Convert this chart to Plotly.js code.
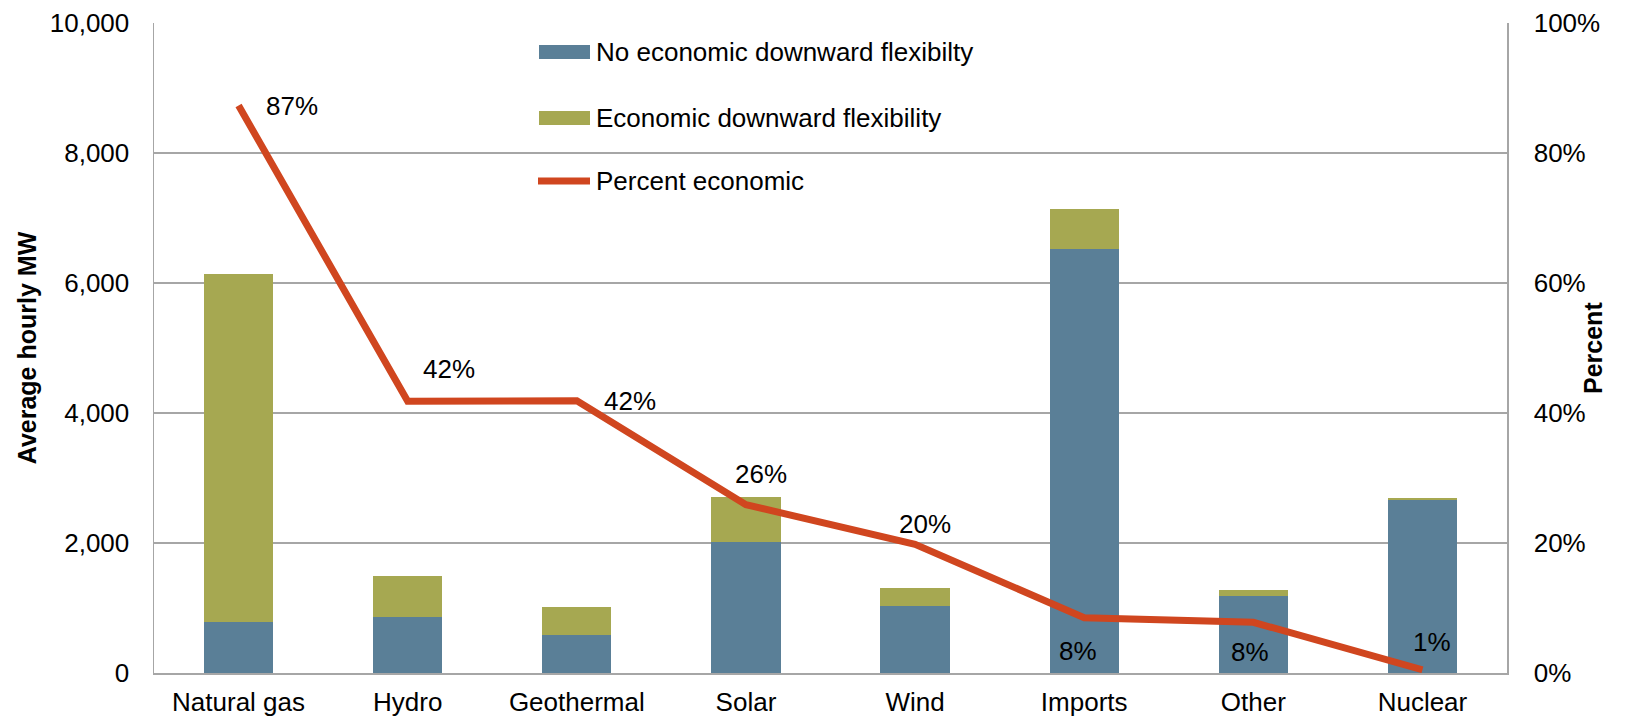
<!DOCTYPE html>
<html>
<head>
<meta charset="utf-8">
<script src="https://cdn.plot.ly/plotly-3.0.1.min.js"></script>
<style>
  html, body { margin: 0; padding: 0; background: #ffffff; }
  #chart { width: 1644px; height: 719px; }
</style>
</head>
<body>
<div id="chart"></div>
<script>
// ---- Data ----
const categories = ['Natural gas', 'Hydro', 'Geothermal', 'Solar', 'Wind', 'Imports', 'Other', 'Nuclear'];
const noEconomicMW = [782, 858, 588, 2008, 1038, 6529, 1191, 2660];
const economicMW = [5364, 639, 423, 705, 271, 603, 87, 28];
const percentEconomic = [87.3, 41.8, 41.9, 25.9, 19.8, 8.5, 7.8, 0.5];
const percentLabels = ['87%', '42%', '42%', '26%', '20%', '8%', '8%', '1%'];
const mwTicks = [0, 2000, 4000, 6000, 8000, 10000];
const mwTickText = ['0', '2,000', '4,000', '6,000', '8,000', '10,000'];
const pctTicks = [0, 20, 40, 60, 80, 100];
const pctTickText = ['0%', '20%', '40%', '60%', '80%', '100%'];
const seriesNames = ['No economic downward flexibilty', 'Economic downward flexibility', 'Percent economic'];

// ---- Styles ----
const W = 1644, H = 719;
const M = { l: 154, r: 137, t: 23, b: 46 };
const blue = '#5a7f97';
const olive = '#a6a851';
const red = '#d0461f';
const gridGrey = '#a6a6a6';
const FONT = 'Liberation Sans, Arial, sans-serif';
const FS = 26;

// pixel -> paper helpers for the legend and right title
const pw = W - M.l - M.r, ph = H - M.t - M.b;
const px = v => (v - M.l) / pw;
const py = v => (H - M.b - v) / ph;

// label offsets (px) for the percent labels
const labelDX = [53, 41, 53, 15, 10, -6, -3, 10];
const labelDY = [0, 32, 0, 31, 20, -33, -30, 28];

const traces = [
  {
    type: 'bar', name: seriesNames[0], x: categories, y: noEconomicMW,
    marker: { color: blue }, yaxis: 'y', showlegend: false, hoverinfo: 'skip'
  },
  {
    type: 'bar', name: seriesNames[1], x: categories, y: economicMW,
    marker: { color: olive }, yaxis: 'y', showlegend: false, hoverinfo: 'skip'
  },
  {
    type: 'scatter', mode: 'lines', name: seriesNames[2], x: categories, y: percentEconomic,
    line: { color: red, width: 7 }, yaxis: 'y2', showlegend: false, hoverinfo: 'skip'
  }
];

const annotations = percentLabels.map((t, i) => ({
  x: categories[i], y: percentEconomic[i], xref: 'x', yref: 'y2',
  text: t, showarrow: false, xshift: labelDX[i], yshift: labelDY[i],
  xanchor: 'center', yanchor: 'middle',
  font: { family: FONT, size: FS, color: '#000' }
}));

// custom legend
const legendRows = [52, 118, 181];
const shapes = [
  { type: 'rect', xref: 'paper', yref: 'paper', x0: px(539), x1: px(590), y0: py(legendRows[0] + 7), y1: py(legendRows[0] - 7),
    fillcolor: blue, line: { width: 0 } },
  { type: 'rect', xref: 'paper', yref: 'paper', x0: px(539), x1: px(590), y0: py(legendRows[1] + 7), y1: py(legendRows[1] - 7),
    fillcolor: olive, line: { width: 0 } },
  { type: 'line', xref: 'paper', yref: 'paper', x0: px(538), x1: px(590), y0: py(legendRows[2]), y1: py(legendRows[2]),
    line: { color: red, width: 7 } }
];
seriesNames.forEach((n, i) => {
  annotations.push({
    xref: 'paper', yref: 'paper', x: px(594), y: py(legendRows[i]),
    xanchor: 'left', yanchor: 'middle', text: n, showarrow: false,
    font: { family: FONT, size: FS, color: '#000' }
  });
});

// right axis title
annotations.push({
  xref: 'paper', yref: 'paper', x: px(1593), y: 0.5, xanchor: 'center', yanchor: 'middle',
  text: 'Percent', textangle: -90, showarrow: false,
  font: { family: FONT, size: 25, color: '#000', weight: 'bold' }
});

const layout = {
  width: W, height: H,
  margin: M,
  paper_bgcolor: '#ffffff', plot_bgcolor: '#ffffff',
  font: { family: FONT, size: FS, color: '#000' },
  barmode: 'stack', bargap: 0.59,
  showlegend: false,
  hovermode: false,
  xaxis: {
    type: 'category', showline: true, linecolor: gridGrey, linewidth: 1.5,
    ticks: '', showgrid: false, tickfont: { family: FONT, size: FS, color: '#000' },
    ticklabelstandoff: 5
  },
  yaxis: {
    range: [0, 10000], tickmode: 'array', tickvals: mwTicks, ticktext: mwTickText,
    showgrid: true, gridcolor: gridGrey, gridwidth: 1.3,
    showline: true, linecolor: gridGrey, linewidth: 1.5, zeroline: false,
    ticks: '', ticklabelstandoff: 18,
    tickfont: { family: FONT, size: FS, color: '#000' },
    title: { text: 'Average hourly MW', standoff: 6, font: { family: FONT, size: 25, color: '#000', weight: 'bold' } }
  },
  yaxis2: {
    overlaying: 'y', side: 'right', range: [0, 100], tickmode: 'array', tickvals: pctTicks, ticktext: pctTickText,
    showgrid: false, showline: true, linecolor: gridGrey, linewidth: 1.5, zeroline: false,
    ticks: '', ticklabelstandoff: 20,
    tickfont: { family: FONT, size: FS, color: '#000' }
  },
  shapes: shapes,
  annotations: annotations
};

Plotly.newPlot('chart', traces, layout, { displayModeBar: false, staticPlot: true });
</script>
</body>
</html>
